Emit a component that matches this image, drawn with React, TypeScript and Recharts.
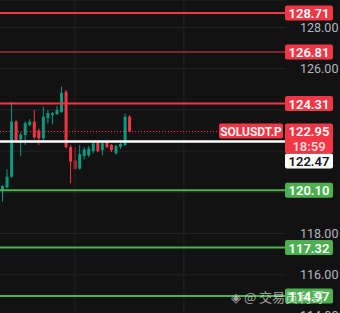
import React from "react";
import {
  ComposedChart,
  Bar,
  XAxis,
  YAxis,
  CartesianGrid,
  ReferenceLine,
} from "recharts";

// candles (15m SOLUSDT.P), left to right
const opens = [120.05, 120.24, 120.76, 123.43, 122.57, 122.78, 123.27, 123.43, 123.0, 122.62, 123.6, 123.75, 123.8, 123.9, 124.88, 122.2, 121.55, 121.15, 121.76, 121.8, 122.0, 122.4, 122.05, 122.45, 122.3, 121.9, 122.2, 122.3, 123.67];
const highs = [120.35, 121.12, 124.4, 123.5, 122.9, 123.45, 123.55, 124.0, 123.1, 124.15, 124.0, 123.9, 124.2, 125.13, 124.97, 122.3, 122.2, 122.3, 122.2, 122.25, 122.5, 122.5, 122.45, 122.5, 122.35, 122.3, 122.42, 123.83, 123.75];
const lows = [119.55, 120.2, 120.7, 122.4, 121.76, 122.3, 123.2, 122.57, 122.3, 122.5, 123.35, 123.3, 123.75, 123.85, 122.12, 120.44, 121.1, 121.1, 121.6, 121.7, 121.9, 121.95, 121.8, 122.15, 121.95, 121.82, 122.1, 122.25, 122.9];
const closes = [120.3, 120.76, 123.43, 122.54, 122.81, 123.35, 123.43, 122.67, 122.62, 123.67, 123.85, 123.83, 124.0, 124.83, 122.2, 121.49, 121.15, 121.86, 122.08, 122.13, 122.38, 122.0, 122.38, 122.2, 122.05, 122.25, 122.35, 123.67, 122.95];

const slotCount = 63;
const priceTicks = [114, 116, 118, 120, 122, 124, 126, 128];
const shownTicks = [114, 116, 118, 126, 128];
const verticalGridSlots = [16, 40];

const redLevels = [128.71, 126.81, 124.31];
const greenLevels = [120.1, 117.32, 114.97];
const lastPrice = 122.95;
const markPrice = 122.47;
const countdown = "18:59";
const symbol = "SOLUSDT.P";

const UP = "#089981";
const DOWN = "#f23645";
const GREEN_LINE = "#4caf50";
const GRID = "#232323";
const BG = "#121212";
const FONT = "Roboto, 'Noto Sans', sans-serif";

const data = Array.from({ length: slotCount }, (_, i) =>
  i < opens.length
    ? { slot: i, open: opens[i], high: highs[i], low: lows[i], close: closes[i], range: [lows[i], highs[i]] }
    : { slot: i, range: null }
);

const Candle = (props: any) => {
  const { x, y, width, height, payload } = props;
  if (!payload || payload.open == null) return null;
  const { open, close, high, low } = payload;
  const ppu = height / (high - low || 1);
  const cx = x + width / 2;
  const top = y + (high - Math.max(open, close)) * ppu;
  const bottom = y + (high - Math.min(open, close)) * ppu;
  const color = close >= open ? UP : DOWN;
  return (
    <g>
      <line x1={cx} x2={cx} y1={y} y2={y + height} stroke={color} strokeWidth={1} />
      <rect x={cx - 1.5} y={top} width={3} height={Math.max(1, bottom - top)} fill={color} />
    </g>
  );
};

const PriceTag = (props: any) => {
  const { viewBox, text, bg, fg = "#fff", dy = 0 } = props;
  if (!viewBox) return null;
  const left = viewBox.x + viewBox.width - 1;
  const cy = viewBox.y + dy;
  return (
    <g>
      <rect x={left} y={cy - 7.5} width={48} height={15} rx={2} fill={bg} />
      <text x={left + 24} y={cy + 5} textAnchor="middle" fill={fg} fontSize={13} fontWeight={600} fontFamily={FONT}>
        {text}
      </text>
    </g>
  );
};

const LastPriceTag = (props: any) => {
  const { viewBox } = props;
  if (!viewBox) return null;
  const right = viewBox.x + viewBox.width;
  const cy = viewBox.y;
  return (
    <g fontFamily={FONT} fontWeight={600}>
      <rect x={right - 67} y={cy - 8} width={64} height={15} rx={2} fill={DOWN} />
      <text x={right - 35} y={cy + 4} textAnchor="middle" fill="#fff" fontSize={12}>{symbol}</text>
      <rect x={right - 1} y={cy - 8} width={48} height={30} rx={2} fill={DOWN} />
      <text x={right + 23} y={cy + 4.5} textAnchor="middle" fill="#fff" fontSize={13}>{lastPrice.toFixed(2)}</text>
      <text x={right + 23} y={cy + 19} textAnchor="middle" fill="#ffd4d8" fontSize={13}>{countdown}</text>
    </g>
  );
};

const PriceTick = (props: any) => {
  const { x, y, payload } = props;
  if (!shownTicks.includes(payload.value)) return null;
  return (
    <text x={x + 6} y={y + 4.5} fill="#b2b5be" fontSize={12.5} fontFamily={FONT}>
      {payload.value.toFixed(2)}
    </text>
  );
};

export default function App() {
  return (
    <div style={{ position: "absolute", left: 0, top: 0, width: 340, height: 313, overflow: "hidden", background: BG }}>
      <ComposedChart width={340} height={330} data={data} margin={{ top: 0, right: 0, bottom: 0, left: 0 }} barSize={3}>
        <CartesianGrid vertical={false} stroke={GRID} />
        <XAxis dataKey="slot" hide />
        <YAxis
          orientation="right"
          width={54}
          domain={[113.32, 129.335]}
          ticks={priceTicks}
          allowDataOverflow
          axisLine={false}
          tickLine={false}
          tick={<PriceTick />}
        />
        {verticalGridSlots.map((s) => (
          <ReferenceLine key={s} x={s} stroke={GRID} />
        ))}
        <ReferenceLine y={lastPrice} stroke={DOWN} strokeDasharray="1 2" />
        <Bar dataKey="range" shape={<Candle />} isAnimationActive={false} />
        <ReferenceLine y={markPrice} stroke="#ffffff" strokeWidth={2.5} label={<PriceTag text={markPrice.toFixed(2)} bg="#ffffff" fg="#131722" dy={19.5} />} />
        {redLevels.map((v, i) => (
          <ReferenceLine key={v} y={v} stroke={DOWN} strokeWidth={i === 1 ? 1 : 2} label={<PriceTag text={v.toFixed(2)} bg={DOWN} />} />
        ))}
        {greenLevels.map((v) => (
          <ReferenceLine key={v} y={v} stroke={GREEN_LINE} strokeWidth={2} label={<PriceTag text={v.toFixed(2)} bg={GREEN_LINE} />} />
        ))}
        <ReferenceLine y={lastPrice} stroke="none" label={<LastPriceTag />} />
      </ComposedChart>
      <div
        style={{
          position: "absolute",
          left: 231,
          top: 287,
          color: "rgba(255,255,255,0.62)",
          fontSize: 13,
          fontFamily: "'Noto Sans CJK SC', sans-serif",
          whiteSpace: "nowrap",
        }}
      >
        ◈ @ 交易员利哥
      </div>
    </div>
  );
}
